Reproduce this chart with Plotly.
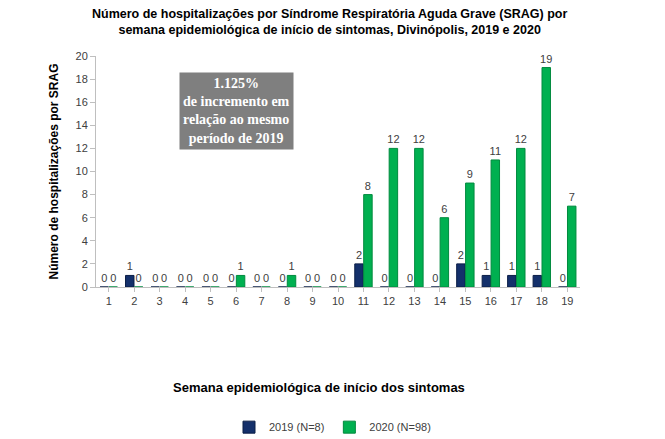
import plotly.graph_objects as go

semanas = [str(i) for i in range(1, 20)]
v2019 = [0, 1, 0, 0, 0, 0, 0, 0, 0, 0, 2, 0, 0, 0, 2, 1, 1, 1, 0]
v2020 = [0, 0, 0, 0, 0, 1, 0, 1, 0, 0, 8, 12, 12, 6, 9, 11, 12, 19, 7]
y_ticks = list(range(0, 21, 2))

FONT = "Liberation Sans, Arial, sans-serif"

fig = go.Figure()
fig.add_trace(go.Bar(
    x=semanas, y=v2019, name="2019 (N=8)",
    marker=dict(color="#14306B", line=dict(color="#0B1E47", width=1)),
    text=[str(v) for v in v2019], textposition="outside", constraintext="none",
    textfont=dict(size=11, color="#404040", family=FONT), cliponaxis=False,
))
fig.add_trace(go.Bar(
    x=semanas, y=v2020, name="2020 (N=98)",
    marker=dict(color="#00B050", line=dict(color="#008A3E", width=1)),
    text=[str(v) for v in v2020], textposition="outside", constraintext="none",
    textfont=dict(size=11, color="#404040", family=FONT), cliponaxis=False,
))

fig.update_layout(
    width=665, height=439,
    paper_bgcolor="white", plot_bgcolor="white",
    margin=dict(l=96, r=85, t=56, b=152, autoexpand=False),
    barmode="group", bargap=0.3, bargroupgap=0.05,
    font=dict(family=FONT, color="#404040"),
    showlegend=True,
    xaxis=dict(
        type="category", showline=True, linecolor="#BFBFBF", linewidth=1,
        ticks="outside", ticklen=4, tickcolor="#BFBFBF",
        tickfont=dict(size=11, color="#404040"),
    ),
    yaxis=dict(
        range=[0, 20], tickvals=y_ticks, showgrid=False, zeroline=False,
        showline=True, linecolor="#BFBFBF", linewidth=1,
        ticks="outside", ticklen=5, tickcolor="#BFBFBF",
        tickfont=dict(size=11, color="#404040"),
        title=dict(text="<b>Número de hospitalizações por SRAG</b>",
                   font=dict(size=12, color="#000000"), standoff=14),
    ),
    legend=dict(
        orientation="h", xref="container", yref="container",
        x=0.5, xanchor="center", y=0.027, yanchor="middle",
        font=dict(size=11, color="#404040"), itemwidth=30,
    ),
    annotations=[
        dict(text="<b>Número de hospitalizações por Síndrome Respiratória Aguda Grave (SRAG) por<br>semana epidemiológica de início de sintomas, Divinópolis, 2019 e 2020</b>",
             xref="paper", yref="paper", x=0.483, y=1.147, xanchor="center", yanchor="middle",
             showarrow=False, font=dict(size=12.5, color="#000000")),
        dict(text="<b>Semana epidemiológica de início dos sintomas</b>",
             xref="paper", yref="paper", x=0.46, y=-0.433, xanchor="center", yanchor="middle",
             showarrow=False, font=dict(size=13, color="#000000")),
        dict(text="<b>1.125%<br>de incremento em<br>relação ao mesmo<br>período de 2019</b>",
             xref="paper", yref="paper", x=0.29, y=0.76, xanchor="center", yanchor="middle",
             showarrow=False, bgcolor="#7F7F7F", borderpad=3,
             font=dict(size=14, color="white", family="Liberation Serif, serif")),
    ],
)

fig.write_html("out.html")
